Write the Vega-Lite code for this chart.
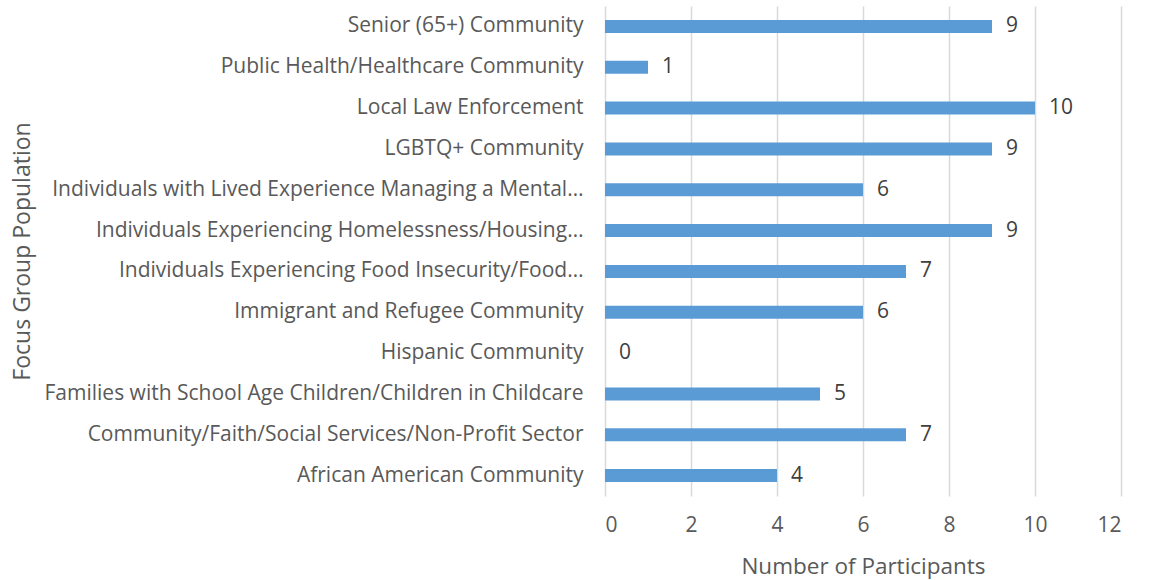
{
  "$schema": "https://vega.github.io/schema/vega-lite/v6.json",
  "autosize": "none",
  "width": 516,
  "height": 490,
  "padding": {"left": 605, "top": 6, "right": 29, "bottom": 84},
  "background": "white",
  "config": {
    "view": {"stroke": null},
    "font": "Open Sans",
    "axis": {"labelColor": "#595959", "titleColor": "#595959", "labelFont": "Open Sans", "titleFont": "Open Sans"}
  },
  "data": {
    "values": [
      {"group": "Senior (65+) Community", "n": 9},
      {"group": "Public Health/Healthcare Community", "n": 1},
      {"group": "Local Law Enforcement", "n": 10},
      {"group": "LGBTQ+ Community", "n": 9},
      {"group": "Individuals with Lived Experience Managing a Mental…", "n": 6},
      {"group": "Individuals Experiencing Homelessness/Housing…", "n": 9},
      {"group": "Individuals Experiencing Food Insecurity/Food…", "n": 7},
      {"group": "Immigrant and Refugee Community", "n": 6},
      {"group": "Hispanic Community", "n": 0},
      {"group": "Families with School Age Children/Children in Childcare", "n": 5},
      {"group": "Community/Faith/Social Services/Non-Profit Sector", "n": 7},
      {"group": "African American Community", "n": 4}
    ]
  },
  "encoding": {
    "y": {
      "field": "group", "type": "nominal", "sort": null,
      "scale": {"paddingInner": 0, "paddingOuter": 0},
      "axis": {
        "title": "Focus Group Population", "titleFontSize": 23, "titleFontWeight": "normal",
        "titleX": -583, "titleY": 245, "titleAngle": -90, "titleAlign": "center", "titleBaseline": "middle",
        "labelFontSize": 21, "labelLimit": 800, "ticks": false, "domain": false, "labelPadding": 22
      }
    },
    "x": {
      "field": "n", "type": "quantitative",
      "scale": {"domain": [0, 12]},
      "axis": {
        "title": "Number of Participants", "titleFontSize": 22.5, "titleFontWeight": "normal",
        "values": [0, 2, 4, 6, 8, 10, 12], "labelFontSize": 21, "labelPadding": 18,
        "ticks": false, "domain": false, "grid": true, "gridColor": "#d9d9d9", "gridWidth": 1.5,
        "titlePadding": 20
      }
    }
  },
  "layer": [
    {"mark": {"type": "bar", "size": 13, "color": "#5b9bd5"}},
    {"mark": {"type": "text", "align": "left", "baseline": "middle", "dx": 14, "fontSize": 21, "color": "#404040"},
     "encoding": {"text": {"field": "n", "type": "quantitative"}}}
  ]
}
